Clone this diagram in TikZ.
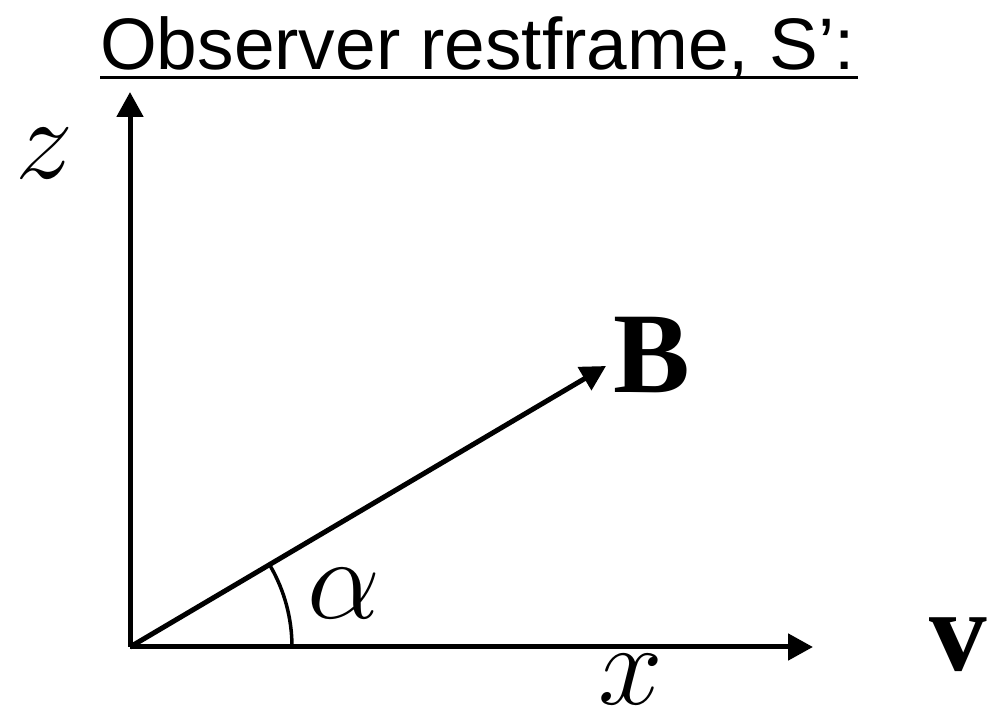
\documentclass[tikz,border=0pt]{standalone}
\usepackage{fix-cm}
\usepackage{fontspec}
\setmainfont{Liberation Serif}
\newfontfamily\titlefont{Liberation Sans}
\usetikzlibrary{arrows.meta}

\begin{document}
\begin{tikzpicture}[x=1pt,y=1pt,
  axis/.style={line width=5pt,-{Triangle[length=25pt,width=26pt]}},
  lbl/.style={inner sep=0pt,font=\fontsize{115}{120}\selectfont},
  mlbl/.style={inner sep=0pt,font=\fontsize{116}{120}\selectfont}]
  \useasboundingbox (0,0) rectangle (990,717);
  \coordinate (O) at (130,70);
  \coordinate (zend) at (130,625);
  \coordinate (xend) at (813,70);
  \coordinate (Bend) at (606,351);
  \node[anchor=base west,inner sep=0pt,font=\titlefont\fontsize{73}{80}\selectfont] (title) at (100,647) {Observer restframe, S’:};
  \draw[line width=3pt] ([yshift=-8pt]title.base west) -- ([yshift=-8pt,xshift=3pt]title.base east);
  \draw[axis] (O)--(zend);
  \draw[axis] (O)--(xend);
  \draw[axis] (O)--(Bend);
  \draw[line width=3.5pt] ([xshift=162pt]O) arc[start angle=0,end angle=30,radius=162pt];
  \node[mlbl] (zlab) at (44,563){$z$};
  \node[mlbl] (xlab) at (631,37){$x$};
  \node[mlbl] (alab) at (344,123){$\alpha$};
  \node[lbl] (Blab) at (652,362){\textbf{B}};
  \node[lbl] (vlab) at (958,72){\textbf{v}};
\end{tikzpicture}
\end{document}
